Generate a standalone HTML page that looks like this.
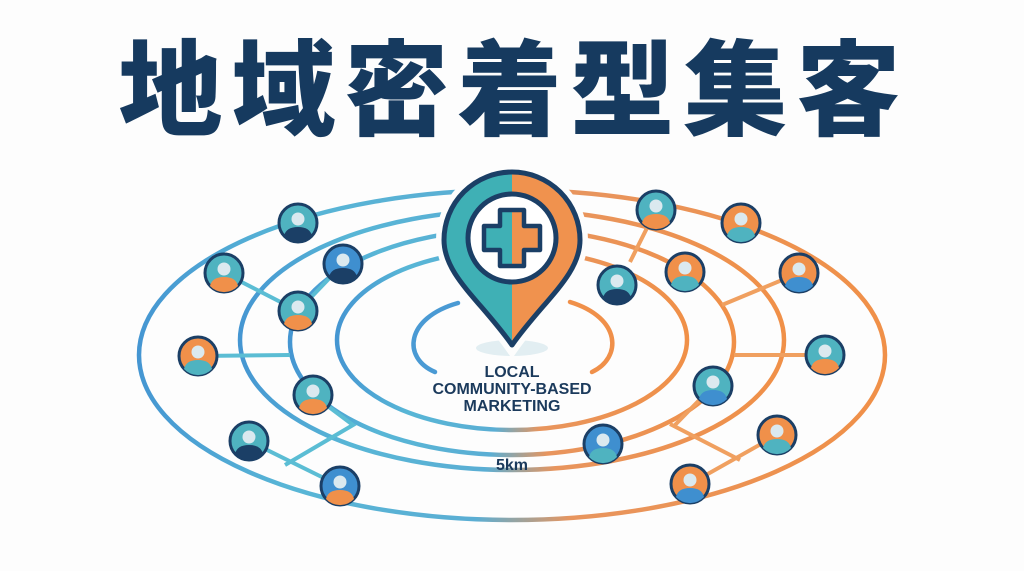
<!DOCTYPE html>
<html><head><meta charset="utf-8"><style>
html,body{margin:0;padding:0;background:#fdfdfd;width:1024px;height:571px;overflow:hidden}
svg{display:block}
</style></head><body>
<svg width="1024" height="571" viewBox="0 0 1024 571" xmlns="http://www.w3.org/2000/svg">
<defs>
<linearGradient id="rg" x1="0" y1="0" x2="1" y2="0">
<stop offset="0" stop-color="#4596d2"/><stop offset="0.2" stop-color="#58b6d6"/>
<stop offset="0.45" stop-color="#5aaed4"/><stop offset="0.58" stop-color="#e8955e"/>
<stop offset="1" stop-color="#f09048"/></linearGradient>
<clipPath id="cl"><rect x="0" y="0" width="512" height="400"/></clipPath>
<clipPath id="cr"><rect x="512" y="0" width="600" height="400"/></clipPath>
</defs>
<rect width="1024" height="571" fill="#fdfdfd"/>
<text x="514" y="127" text-anchor="middle" font-family="'Noto Sans CJK JP',sans-serif" font-weight="900" font-size="104" letter-spacing="9" fill="#163a5f">地域密着型集客</text>

<g fill="none" stroke="url(#rg)" stroke-width="4.5">
<ellipse cx="512" cy="355" rx="373" ry="165"/>
<ellipse cx="512" cy="340" rx="272" ry="130"/>
<ellipse cx="512" cy="342" rx="222" ry="113"/>
<ellipse cx="512" cy="340" rx="175" ry="90"/>
</g>
<g fill="none" stroke-width="4.5" stroke-linecap="round">
<path d="M458,303 C405,318 402,358 435,372" stroke="#4a9ad4"/>
<path d="M570,302 C622,318 622,358 592,372" stroke="#f0904a"/>
</g>
<g fill="none" stroke="#5bbdd4" stroke-width="4">
<path d="M224,273 L298,311"/><path d="M343,264 L298,311"/>
<path d="M198,356 L290,355"/><path d="M313,395 L353,425 L285,465"/>
<path d="M249,441 L340,486"/>
</g>
<g fill="none" stroke="#f0a060" stroke-width="4">
<path d="M656,210 L630,262"/><path d="M799,273 L722,305"/>
<path d="M825,355 L734,355"/><path d="M713,386 L675,425"/>
<path d="M670,424 L740,460"/><path d="M777,435 L690,484"/>
</g>
<ellipse cx="512" cy="348" rx="36" ry="8" fill="#e2eef2"/>
<path d="M512,345 C480,300 444,275 444,240 A68,68 0 0 1 580,240 C580,275 544,300 512,345 Z" fill="#fff" stroke="#fdfdfd" stroke-width="16"/>
<g clip-path="url(#cl)"><path d="M512,345 C480,300 444,275 444,240 A68,68 0 0 1 580,240 C580,275 544,300 512,345 Z" fill="#3fb0b5"/></g>
<g clip-path="url(#cr)"><path d="M512,345 C480,300 444,275 444,240 A68,68 0 0 1 580,240 C580,275 544,300 512,345 Z" fill="#f0924e"/></g>
<path d="M512,345 C480,300 444,275 444,240 A68,68 0 0 1 580,240 C580,275 544,300 512,345 Z" fill="none" stroke="#1b3f66" stroke-width="5" stroke-linejoin="round"/>
<circle cx="512" cy="238" r="44" fill="#fff" stroke="#1b3f66" stroke-width="5"/>
<g clip-path="url(#cl)"><path d="M500,210 h24 v16 h16 v24 h-16 v16 h-24 v-16 h-16 v-24 h16z" fill="#3fb0b5"/></g>
<g clip-path="url(#cr)"><path d="M500,210 h24 v16 h16 v24 h-16 v16 h-24 v-16 h-16 v-24 h16z" fill="#f0924e"/></g>
<path d="M500,210 h24 v16 h16 v24 h-16 v16 h-24 v-16 h-16 v-24 h16z" fill="none" stroke="#1b3f66" stroke-width="4.5" stroke-linejoin="round"/>
<g font-family="'Liberation Sans',sans-serif" font-weight="bold" font-size="16" fill="#1b3a5c" text-anchor="middle">
<text x="512" y="377">LOCAL</text>
<text x="512" y="394">COMMUNITY-BASED</text>
<text x="512" y="411">MARKETING</text>
<text x="512" y="470" font-size="16">5km</text>
</g>
<g stroke="#1b3f66" stroke-width="3">
<g transform="translate(298,223)"><circle r="19" fill="#4fb3c0"/><path d="M-14,13 Q-12,4 0,4 Q12,4 14,13 A19,19 0 0 1 -14,13Z" fill="#1b3f66" stroke="none"/><circle cy="-4" r="6.5" fill="#dbe9ef" stroke="none"/></g>
<g transform="translate(224,273)"><circle r="19" fill="#4fb3c0"/><path d="M-14,13 Q-12,4 0,4 Q12,4 14,13 A19,19 0 0 1 -14,13Z" fill="#f0904a" stroke="none"/><circle cy="-4" r="6.5" fill="#dbe9ef" stroke="none"/></g>
<g transform="translate(343,264)"><circle r="19" fill="#3f8fcf"/><path d="M-14,13 Q-12,4 0,4 Q12,4 14,13 A19,19 0 0 1 -14,13Z" fill="#1b3f66" stroke="none"/><circle cy="-4" r="6.5" fill="#dbe9ef" stroke="none"/></g>
<g transform="translate(298,311)"><circle r="19" fill="#4fb3c0"/><path d="M-14,13 Q-12,4 0,4 Q12,4 14,13 A19,19 0 0 1 -14,13Z" fill="#f0904a" stroke="none"/><circle cy="-4" r="6.5" fill="#dbe9ef" stroke="none"/></g>
<g transform="translate(198,356)"><circle r="19" fill="#f0904a"/><path d="M-14,13 Q-12,4 0,4 Q12,4 14,13 A19,19 0 0 1 -14,13Z" fill="#4fb3c0" stroke="none"/><circle cy="-4" r="6.5" fill="#dbe9ef" stroke="none"/></g>
<g transform="translate(313,395)"><circle r="19" fill="#4fb3c0"/><path d="M-14,13 Q-12,4 0,4 Q12,4 14,13 A19,19 0 0 1 -14,13Z" fill="#f0904a" stroke="none"/><circle cy="-4" r="6.5" fill="#dbe9ef" stroke="none"/></g>
<g transform="translate(249,441)"><circle r="19" fill="#4fb3c0"/><path d="M-14,13 Q-12,4 0,4 Q12,4 14,13 A19,19 0 0 1 -14,13Z" fill="#1b3f66" stroke="none"/><circle cy="-4" r="6.5" fill="#dbe9ef" stroke="none"/></g>
<g transform="translate(340,486)"><circle r="19" fill="#3f8fcf"/><path d="M-14,13 Q-12,4 0,4 Q12,4 14,13 A19,19 0 0 1 -14,13Z" fill="#f0904a" stroke="none"/><circle cy="-4" r="6.5" fill="#dbe9ef" stroke="none"/></g>
<g transform="translate(656,210)"><circle r="19" fill="#4fb3c0"/><path d="M-14,13 Q-12,4 0,4 Q12,4 14,13 A19,19 0 0 1 -14,13Z" fill="#f0904a" stroke="none"/><circle cy="-4" r="6.5" fill="#dbe9ef" stroke="none"/></g>
<g transform="translate(741,223)"><circle r="19" fill="#f0904a"/><path d="M-14,13 Q-12,4 0,4 Q12,4 14,13 A19,19 0 0 1 -14,13Z" fill="#4fb3c0" stroke="none"/><circle cy="-4" r="6.5" fill="#dbe9ef" stroke="none"/></g>
<g transform="translate(617,285)"><circle r="19" fill="#4fb3c0"/><path d="M-14,13 Q-12,4 0,4 Q12,4 14,13 A19,19 0 0 1 -14,13Z" fill="#1b3f66" stroke="none"/><circle cy="-4" r="6.5" fill="#dbe9ef" stroke="none"/></g>
<g transform="translate(685,272)"><circle r="19" fill="#f0904a"/><path d="M-14,13 Q-12,4 0,4 Q12,4 14,13 A19,19 0 0 1 -14,13Z" fill="#4fb3c0" stroke="none"/><circle cy="-4" r="6.5" fill="#dbe9ef" stroke="none"/></g>
<g transform="translate(799,273)"><circle r="19" fill="#f0904a"/><path d="M-14,13 Q-12,4 0,4 Q12,4 14,13 A19,19 0 0 1 -14,13Z" fill="#3f8fcf" stroke="none"/><circle cy="-4" r="6.5" fill="#dbe9ef" stroke="none"/></g>
<g transform="translate(825,355)"><circle r="19" fill="#4fb3c0"/><path d="M-14,13 Q-12,4 0,4 Q12,4 14,13 A19,19 0 0 1 -14,13Z" fill="#f0904a" stroke="none"/><circle cy="-4" r="6.5" fill="#dbe9ef" stroke="none"/></g>
<g transform="translate(713,386)"><circle r="19" fill="#4fb3c0"/><path d="M-14,13 Q-12,4 0,4 Q12,4 14,13 A19,19 0 0 1 -14,13Z" fill="#3f8fcf" stroke="none"/><circle cy="-4" r="6.5" fill="#dbe9ef" stroke="none"/></g>
<g transform="translate(603,444)"><circle r="19" fill="#3f8fcf"/><path d="M-14,13 Q-12,4 0,4 Q12,4 14,13 A19,19 0 0 1 -14,13Z" fill="#4fb3c0" stroke="none"/><circle cy="-4" r="6.5" fill="#dbe9ef" stroke="none"/></g>
<g transform="translate(777,435)"><circle r="19" fill="#f0904a"/><path d="M-14,13 Q-12,4 0,4 Q12,4 14,13 A19,19 0 0 1 -14,13Z" fill="#4fb3c0" stroke="none"/><circle cy="-4" r="6.5" fill="#dbe9ef" stroke="none"/></g>
<g transform="translate(690,484)"><circle r="19" fill="#f0904a"/><path d="M-14,13 Q-12,4 0,4 Q12,4 14,13 A19,19 0 0 1 -14,13Z" fill="#3f8fcf" stroke="none"/><circle cy="-4" r="6.5" fill="#dbe9ef" stroke="none"/></g>
</g>
</svg>
</body></html>
